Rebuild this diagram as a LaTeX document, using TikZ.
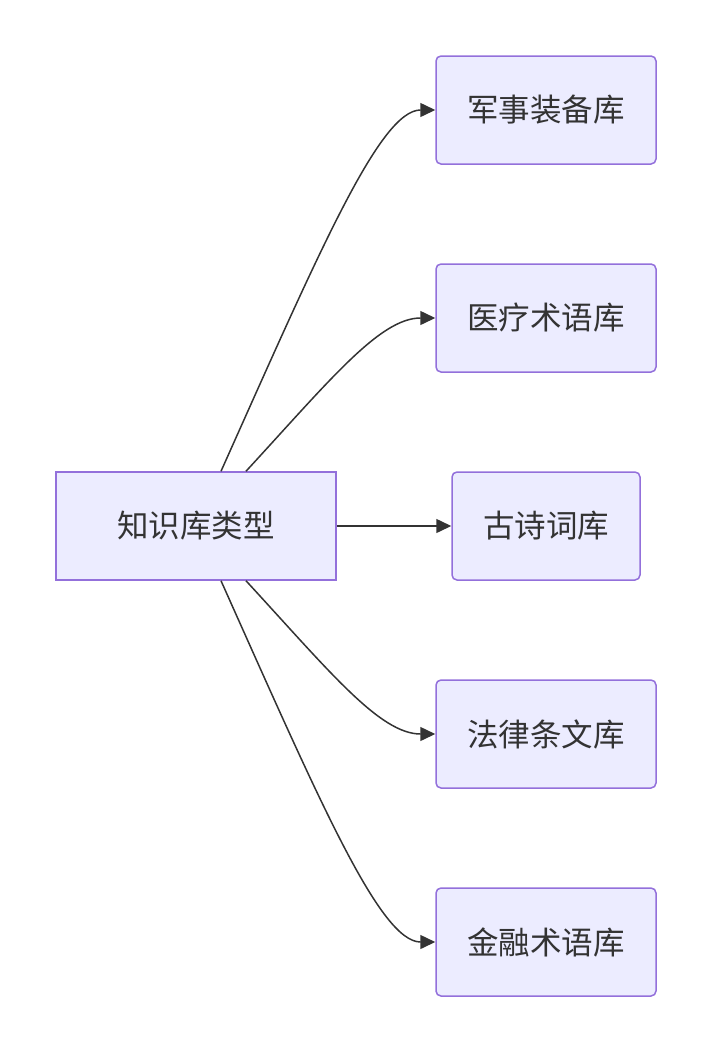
\documentclass[tikz,border=0pt]{standalone}
\usepackage{fontspec}
\setmainfont{Noto Sans CJK SC}
\usetikzlibrary{arrows.meta}
\definecolor{boxfill}{HTML}{ECECFF}
\definecolor{boxline}{HTML}{9370DB}
\definecolor{ink}{HTML}{333333}
\begin{document}
\begin{tikzpicture}[x=1pt,y=-1pt,
  kbox/.style={draw=boxline,fill=boxfill,line width=1.5pt,text=ink,inner sep=0pt,
    minimum height=108pt,font=\fontsize{31.5}{38}\selectfont},
  link/.style={draw=ink,line width=1.5pt,-{Triangle[length=15pt,width=14pt]}}]
\useasboundingbox (0,0) rectangle (712,1052);
\node[kbox,minimum width=280pt] (kb) at (196,526) {知识库类型};
\node[kbox,rounded corners=5pt,minimum width=220pt] (junshi) at (546,110) {军事装备库};
\node[kbox,rounded corners=5pt,minimum width=220pt] (yiliao) at (546,318) {医疗术语库};
\node[kbox,rounded corners=5pt,minimum width=188pt] (gushi) at (546,526) {古诗词库};
\node[kbox,rounded corners=5pt,minimum width=220pt] (falv) at (546,734) {法律条文库};
\node[kbox,rounded corners=5pt,minimum width=220pt] (jinrong) at (546,942) {金融术语库};
\draw[link] ([xshift=25pt]kb.north) .. controls (320,250) and (380,110) .. (junshi.west);
\draw[link] ([xshift=50pt]kb.north) .. controls (330,380) and (380,318) .. (yiliao.west);
\draw[link] (kb.east) -- (gushi.west);
\draw[link] ([xshift=50pt]kb.south) .. controls (330,672) and (380,734) .. (falv.west);
\draw[link] ([xshift=25pt]kb.south) .. controls (320,802) and (380,942) .. (jinrong.west);
\end{tikzpicture}
\end{document}
